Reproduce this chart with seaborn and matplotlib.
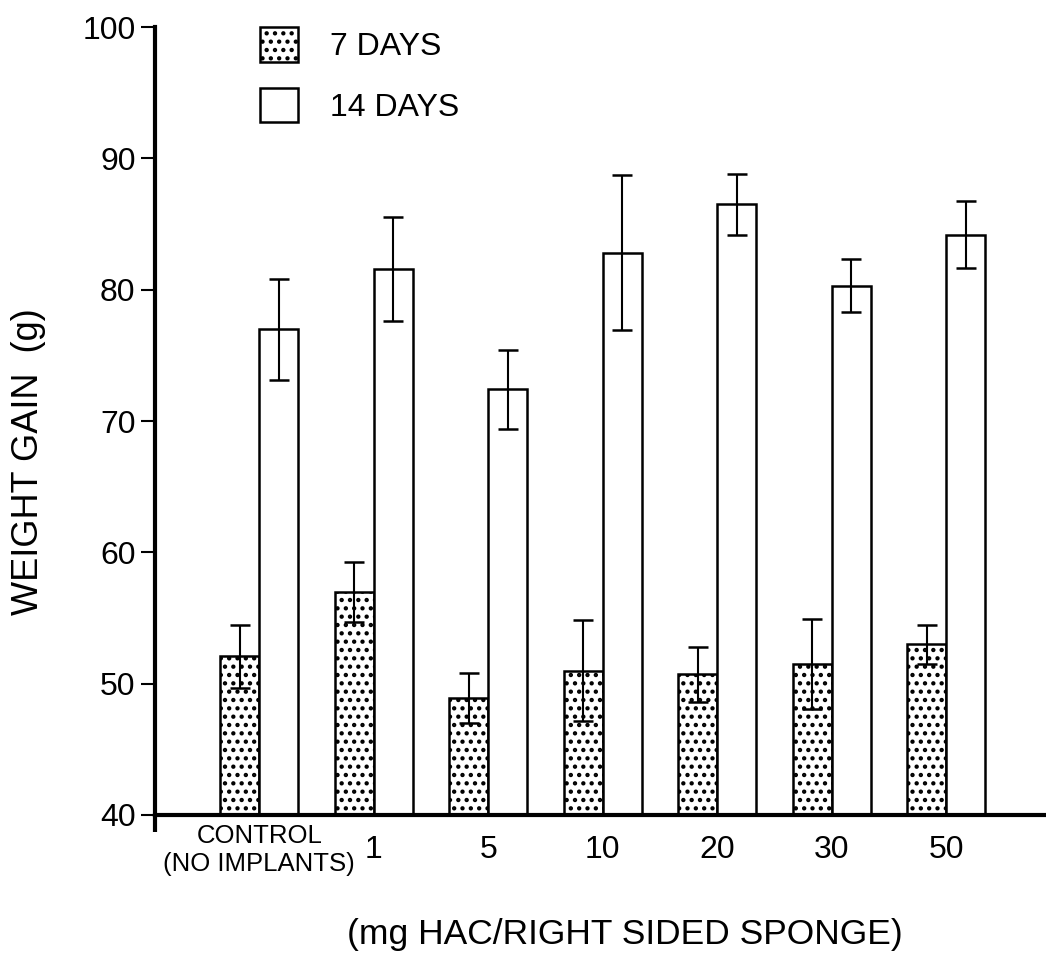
import matplotlib
matplotlib.use('Agg')
import matplotlib.pyplot as plt
from matplotlib.patches import Patch
import pandas as pd
import seaborn as sns

# weight gain (g), mean and error per dose group
doses = ['CONTROL\n(NO IMPLANTS)', '1', '5', '10', '20', '30', '50']
periods = ['7 DAYS', '14 DAYS']
gain_7 = [52.1, 57.0, 48.9, 51.0, 50.7, 51.5, 53.0]
err_7 = [2.4, 2.3, 1.9, 3.85, 2.1, 3.4, 1.5]
gain_14 = [77.0, 81.6, 72.4, 82.8, 86.5, 80.3, 84.2]
err_14 = [3.85, 3.95, 3.0, 5.9, 2.3, 2.0, 2.55]

df = pd.DataFrame({
    'dose': doses * 2,
    'period': [periods[0]] * len(doses) + [periods[1]] * len(doses),
    'gain': gain_7 + gain_14,
})
errs = {periods[0]: err_7, periods[1]: err_14}

sns.set_style('white')
plt.rcParams['font.family'] = ['Liberation Sans', 'DejaVu Sans']
plt.rcParams['text.color'] = 'black'
plt.rcParams['axes.labelcolor'] = 'black'
plt.rcParams['xtick.color'] = 'black'
plt.rcParams['ytick.color'] = 'black'
plt.rcParams['hatch.linewidth'] = 1.9
plt.rcParams['hatch.color'] = 'black'

fig = plt.figure(figsize=(10.46, 9.6), dpi=100)
ax = fig.add_axes([155 / 1046, 1 - 815 / 960, 891 / 1046, 788 / 960])

sns.barplot(data=df, x='dose', y='gain', hue='period', order=doses,
            hue_order=periods, palette=['white', 'white'], saturation=1,
            edgecolor='black', linewidth=1.8, width=0.68, errorbar=None,
            legend=False, ax=ax)

for bar in ax.containers[0]:
    bar.set_hatch('..')

# error bars on top of each bar
for cont, p in zip(ax.containers, periods):
    xs = [b.get_x() + b.get_width() / 2 for b in cont]
    ys = [b.get_height() for b in cont]
    ax.errorbar(xs, ys, yerr=errs[p], fmt='none', ecolor='black',
                elinewidth=1.5, capsize=7, capthick=1.8, zorder=3)

ax.set_xlim(-0.91, 6.87)
ax.set_ylim(40, 100)
ax.set_yticks(range(40, 101, 10))
ax.set_xticks(range(len(doses)), labels=doses)

for s in ['top', 'right']:
    ax.spines[s].set_visible(False)
ax.spines['left'].set_linewidth(3)
ax.spines['bottom'].set_linewidth(3)
ax.spines['left'].set_color('black')
ax.spines['bottom'].set_color('black')
# y axis line pokes a bit below the x axis
ax.plot([0, 0], [0, -17 / 788], transform=ax.transAxes, color='black', lw=3,
        clip_on=False, solid_capstyle='butt')

ax.tick_params(axis='y', left=True, direction='out', length=10, width=1.5,
               labelsize=23, pad=4, colors='black')
ax.tick_params(axis='x', bottom=False, length=0, labelsize=23, pad=25,
               labelcolor='black')
for lab in ax.get_xticklabels():
    lab.set_verticalalignment('center')
ax.get_xticklabels()[0].set_fontsize(18.5)
ax.get_xticklabels()[0].set_linespacing(1.2)

ax.set_ylabel('WEIGHT GAIN  (g)', fontsize=26)
ax.yaxis.set_label_coords(-0.1425, 0.448)
ax.yaxis.label.set_verticalalignment('center')
ax.set_xlabel('(mg HAC/RIGHT SIDED SPONGE)', fontsize=25.5)
ax.xaxis.set_label_coords(0.527, -0.152)
ax.xaxis.label.set_verticalalignment('center')

handles = [Patch(facecolor='white', edgecolor='black', hatch='..', lw=1.8),
           Patch(facecolor='white', edgecolor='black', lw=1.8)]
fig.legend(handles, periods, loc='upper left',
           bbox_to_anchor=(260 / 1046, 1 - 27 / 960), frameon=False,
           fontsize=23, handlelength=1.2, handleheight=1.3, handletextpad=1.0,
           labelspacing=0.8, borderpad=0, borderaxespad=0, labelcolor='black')

fig.savefig('out.png', dpi=100)
